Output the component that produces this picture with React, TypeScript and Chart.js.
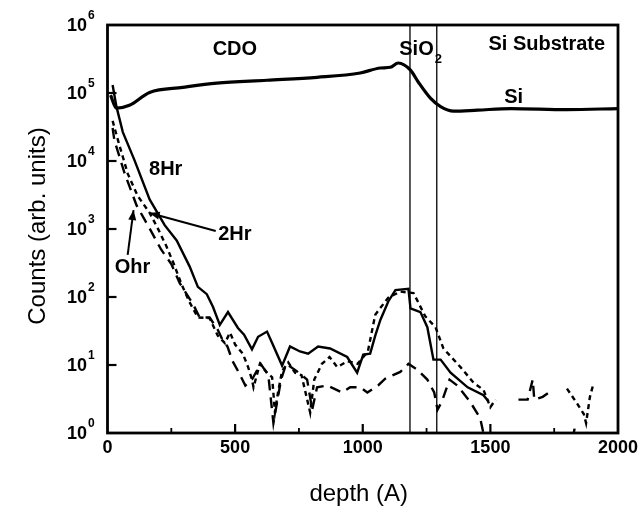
import { useEffect, useRef } from "react";
import { Chart, registerables } from "chart.js";

Chart.register(...registerables);

// ---------- data ----------
const xMajorTicks = [0, 500, 1000, 1500, 2000];
const xMinorTicks = [250, 750, 1250, 1750];
const yDecades = [0, 1, 2, 3, 4, 5, 6];
const layerBounds = [1185, 1290];

const siDepth = [12, 35, 86, 165, 295, 428, 625, 821, 990, 1069, 1108, 1139, 1187, 1218, 1265, 1305, 1356, 1450, 1580, 1800, 2000];
const siCounts = [9.3e4, 6.0e4, 6.6e4, 1.02e5, 1.21e5, 1.4e5, 1.54e5, 1.7e5, 1.97e5, 2.33e5, 2.39e5, 2.76e5, 2.17e5, 1.44e5, 8.4e4, 6.3e4, 5.4e4, 5.6e4, 5.9e4, 5.7e4, 5.9e4];

const hr8Depth = [20, 35, 60, 106, 165, 224, 271, 322, 354, 389, 413, 440, 472, 511, 535, 566, 590, 625, 645, 684, 715, 754, 786, 825, 872, 939, 978, 1002, 1029, 1049, 1069, 1100, 1128, 1179, 1187, 1226, 1253, 1277, 1305, 1344, 1411, 1473, 1493];
const hr8Counts = [1.31e5, 6.3e4, 2.66e4, 1.02e4, 2.72e3, 1.14e3, 679, 280, 141, 110, 72, 39, 60, 35, 28, 17, 26, 31, 21, 9.8, 18.7, 15.8, 14.7, 18.7, 17.5, 13.1, 7.7, 14.2, 14.7, 27, 46, 86, 126, 132, 68, 60, 36, 12, 12, 7.7, 4.7, 3.6, 2.9];

const hr2Depth = [20, 45, 80, 118, 165, 200, 230, 260, 290, 320, 354, 400, 432, 460, 480, 500, 530, 551, 566, 572, 597, 625, 645, 656, 668, 684, 708, 735, 760, 794, 810, 840, 870, 900, 940, 980, 1020, 1049, 1100, 1147, 1199, 1245, 1285, 1316, 1383, 1434, 1473, 1500, 1520, 1660, 1800, 1840, 1866, 1875, 1890, 1902];
const hr2Counts = [3.9e4, 1.79e4, 6.4e3, 3.08e3, 1.73e3, 970, 566, 305, 154, 86, 50, 49, 27, 21, 30, 20, 14.7, 9.3, 6.1, 4.7, 10.4, 7.7, 6.6, 2.0, 3.95, 8.2, 10.9, 7.7, 7.1, 2.0, 6.1, 10.4, 13.1, 9.3, 11.4, 10.4, 15.8, 55, 98, 120, 114, 52, 36, 17.5, 9.3, 5.5, 4.3, 2.4, 3.1, null, 4.5, 2.7, 1.9, 1.4, 3.4, 5.0];

const hr0Depth = [20, 27, 67, 114, 160, 210, 250, 283, 334, 361, 400, 432, 450, 470, 490, 515, 540, 566, 600, 630, 650, 680, 700, 740, 782, 802, 821, 860, 919, 951, 990, 1018, 1060, 1088, 1147, 1179, 1214, 1253, 1280, 1293, 1310, 1340, 1370, 1420, 1460, 1490, 1550, 1610, 1646, 1666, 1672, 1705, 1730, 1750, 1780, 1810, 1830];
const hr0Counts = [3.06e4, 2.02e4, 6.6e3, 2.22e3, 1.1e3, 500, 305, 160, 80, 50, 50, 33, 23.7, 18.7, 11.4, 7.7, 5.0, 6.1, 10.4, 7.1, 1.4, 6.1, 10.4, 8.2, 6.1, 2.2, 4.7, 5.0, 3.95, 4.7, 4.7, 3.95, 5.0, 6.3, 7.9, 10.4, 8.5, 6.1, 3.95, 2.2, 2.9, 6.1, 5.0, 2.9, 1.66, 0.5, null, 3.1, 3.1, 6.1, 3.1, 3.4, 3.95, 4.1, null, 0.5, 1.16];

// annotations
const labelTexts = ["CDO", "Si Substrate", "Si", "8Hr", "2Hr", "Ohr"];
const labelDepths = [499, 1721, 1591, 228, 499, 98];
const labelCounts = [4.3e5, 5.1e5, 8.7e4, 7.4e3, 843, 276];

const pts = (d: number[], c: (number | null)[]) => d.map((x, i) => ({ x, y: c[i] }));

const FONT = '"Liberation Sans", Arial, sans-serif';

const overlay = {
  id: "overlay",
  afterDatasetsDraw(chart: any) {
    const { ctx, chartArea: a, scales } = chart;
    const xs = scales.x;
    const ys = scales.y;
    const X = (v: number) => xs.getPixelForValue(v);
    const Y = (v: number) => ys.getPixelForValue(v);
    const line = (x1: number, y1: number, x2: number, y2: number) => {
      ctx.beginPath();
      ctx.moveTo(x1, y1);
      ctx.lineTo(x2, y2);
      ctx.stroke();
    };
    ctx.save();
    ctx.strokeStyle = "#000";
    ctx.fillStyle = "#000";

    // layer boundaries
    ctx.lineWidth = 1.3;
    layerBounds.forEach((v) => line(X(v), a.top, X(v), a.bottom));

    // frame
    ctx.lineWidth = 2.8;
    ctx.strokeRect(a.left, a.top, a.right - a.left, a.bottom - a.top);

    // y ticks + labels
    ctx.lineWidth = 2.2;
    yDecades.forEach((e) => {
      const py = Y(Math.pow(10, e));
      if (e > 0 && e < 6) line(a.left, py, a.left + 9, py);
      ctx.font = `bold 18px ${FONT}`;
      ctx.textAlign = "right";
      ctx.textBaseline = "middle";
      ctx.fillText("10", 87, py + 1);
      ctx.font = `bold 12px ${FONT}`;
      ctx.textAlign = "left";
      ctx.fillText(String(e), 88, py - 9);
    });

    // x ticks + labels
    xMajorTicks.forEach((v) => {
      const px = X(v);
      if (v > 0 && v < 2000) line(px, a.bottom, px, a.bottom - 9);
      ctx.font = `bold 18px ${FONT}`;
      ctx.textAlign = "center";
      ctx.textBaseline = "middle";
      ctx.fillText(String(v), px, a.bottom + 15);
    });
    ctx.lineWidth = 1.8;
    xMinorTicks.forEach((v) => {
      const px = X(v);
      line(px, a.bottom, px, a.bottom - 5);
    });

    // axis titles
    ctx.font = `24px ${FONT}`;
    ctx.textAlign = "center";
    ctx.textBaseline = "middle";
    ctx.fillText("depth (A)", (a.left + a.right) / 2 - 4, 494);
    ctx.save();
    ctx.translate(38, 226);
    ctx.rotate(-Math.PI / 2);
    ctx.fillText("Counts (arb. units)", 0, 0);
    ctx.restore();

    // annotations
    ctx.font = `bold 20px ${FONT}`;
    labelTexts.forEach((t, i) => {
      ctx.textAlign = "center";
      ctx.fillText(t, X(labelDepths[i]), Y(labelCounts[i]));
    });
    // SiO2
    ctx.textAlign = "left";
    const sx = X(1143);
    const sy = Y(4.4e5);
    ctx.fillText("SiO", sx, sy);
    const w = ctx.measureText("SiO").width;
    ctx.font = `bold 13px ${FONT}`;
    ctx.fillText("2", sx + w + 1, sy + 10);

    // arrows
    const arrow = (x1: number, y1: number, x2: number, y2: number) => {
      ctx.lineWidth = 2;
      line(x1, y1, x2, y2);
      const ang = Math.atan2(y2 - y1, x2 - x1);
      const L = 10;
      const W = 4;
      ctx.beginPath();
      ctx.moveTo(x2, y2);
      ctx.lineTo(x2 - L * Math.cos(ang) + W * Math.sin(ang), y2 - L * Math.sin(ang) - W * Math.cos(ang));
      ctx.lineTo(x2 - L * Math.cos(ang) - W * Math.sin(ang), y2 - L * Math.sin(ang) + W * Math.cos(ang));
      ctx.closePath();
      ctx.fill();
    };
    arrow(X(424), Y(935), X(165), Y(1.72e3));
    arrow(X(79), Y(415), X(102), Y(1.9e3));

    ctx.restore();
  },
};

export default function App() {
  const ref = useRef<HTMLCanvasElement>(null);
  useEffect(() => {
    document.body.style.margin = "0";
    const canvas = ref.current!;
    const chart = new Chart(canvas, {
      type: "line",
      data: {
        datasets: [
          {
            label: "Si",
            data: pts(siDepth, siCounts),
            borderColor: "#000",
            borderWidth: 3.2,
            pointRadius: 0,
            cubicInterpolationMode: "monotone",
          },
          {
            label: "8Hr",
            data: pts(hr8Depth, hr8Counts),
            borderColor: "#000",
            borderWidth: 2.4,
            pointRadius: 0,
            tension: 0,
          },
          {
            label: "2Hr",
            data: pts(hr2Depth, hr2Counts),
            borderColor: "#000",
            borderWidth: 2.4,
            borderDash: [5, 4],
            pointRadius: 0,
            tension: 0,
            spanGaps: false,
          },
          {
            label: "0hr",
            data: pts(hr0Depth, hr0Counts),
            borderColor: "#000",
            borderWidth: 2.4,
            borderDash: [11, 7],
            pointRadius: 0,
            tension: 0,
            spanGaps: false,
          },
        ],
      },
      options: {
        responsive: false,
        animation: false,
        layout: { padding: { left: 107.5, right: 26, top: 25, bottom: 84 } },
        plugins: { legend: { display: false }, tooltip: { enabled: false } },
        scales: {
          x: { type: "linear", min: 0, max: 2000, display: false },
          y: { type: "logarithmic", min: 1, max: 1e6, display: false },
        },
      },
      plugins: [overlay],
    });
    return () => chart.destroy();
  }, []);
  return <canvas ref={ref} width={644} height={517} style={{ display: "block" }} />;
}
